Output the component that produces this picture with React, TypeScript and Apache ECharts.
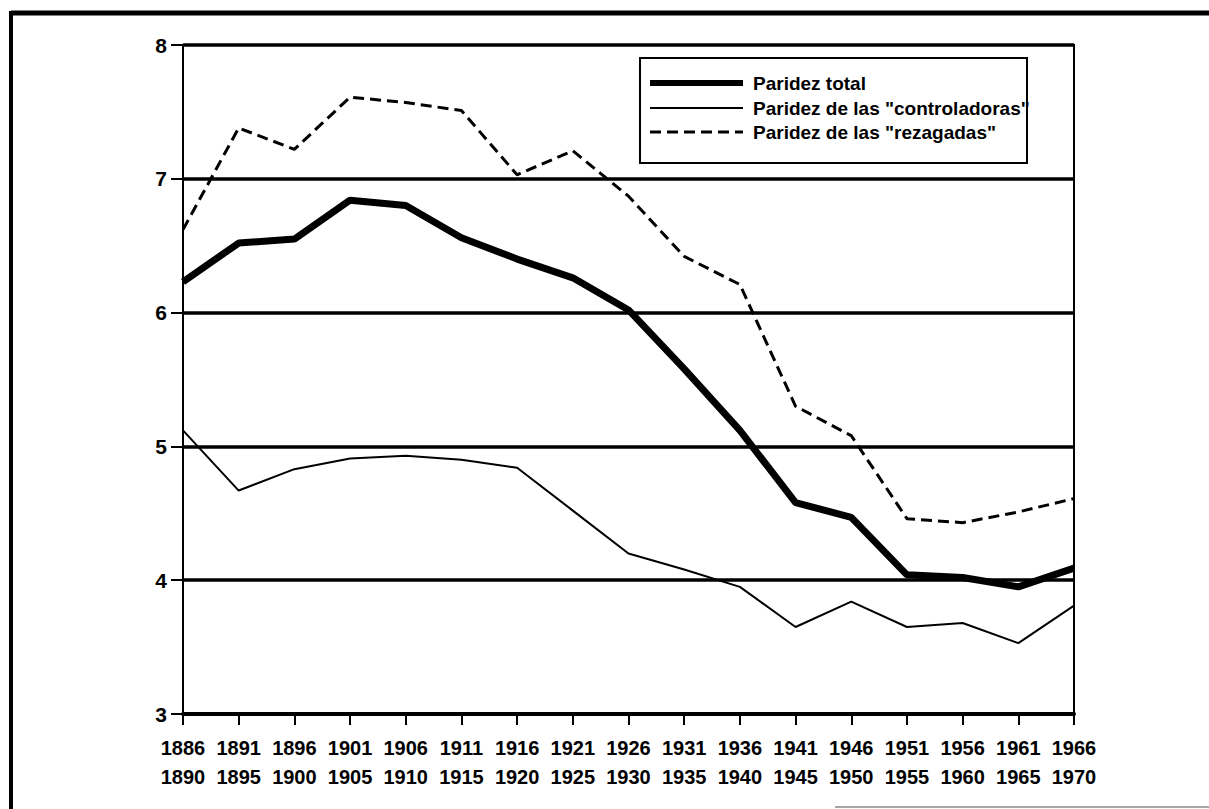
import React, { useEffect, useRef } from "react";
import * as echarts from "echarts";

const periodStart = ["1886", "1891", "1896", "1901", "1906", "1911", "1916", "1921", "1926", "1931", "1936", "1941", "1946", "1951", "1956", "1961", "1966"];
const periodEnd = ["1890", "1895", "1900", "1905", "1910", "1915", "1920", "1925", "1930", "1935", "1940", "1945", "1950", "1955", "1960", "1965", "1970"];

const seriesNames = ["Paridez total", 'Paridez de las "controladoras"', 'Paridez de las "rezagadas"'];

const total = [6.23, 6.52, 6.55, 6.84, 6.8, 6.56, 6.4, 6.26, 6.02, 5.58, 5.12, 4.58, 4.47, 4.04, 4.02, 3.95, 4.09];
const controladoras = [5.12, 4.67, 4.83, 4.91, 4.93, 4.9, 4.84, 4.52, 4.2, 4.08, 3.95, 3.65, 3.84, 3.65, 3.68, 3.53, 3.81];
const rezagadas = [6.62, 7.38, 7.22, 7.61, 7.57, 7.51, 7.03, 7.21, 6.87, 6.42, 6.21, 5.3, 5.08, 4.46, 4.43, 4.51, 4.61];

const yMin = 3;
const yMax = 8;
const yStep = 1;

const FONT = "Liberation Sans";

const lineStyles = [
  { color: "#000", width: 7 },
  { color: "#000", width: 2 },
  { color: "#000", width: 3, type: [11, 6] as number[] },
];

export default function App() {
  const ref = useRef<HTMLDivElement>(null);
  useEffect(() => {
    document.body.style.margin = "0";
    if (!ref.current) return;
    const chart = echarts.init(ref.current, undefined, { renderer: "svg" });
    const categories = periodStart.map((s, i) => `${s}\n${periodEnd[i]}`);
    const legendRowsY = [83, 108, 132];
    const legendGraphics: any[] = [];
    seriesNames.forEach((name, i) => {
      const ls = lineStyles[i];
      legendGraphics.push({
        type: "line",
        shape: { x1: 650, y1: legendRowsY[i], x2: 743, y2: legendRowsY[i] },
        style: {
          stroke: "#000",
          lineWidth: i === 0 ? 6 : ls.width,
          lineDash: (ls as any).type ? (ls as any).type : null,
        },
        z: 20,
      });
      legendGraphics.push({
        type: "text",
        x: 753,
        y: legendRowsY[i],
        style: {
          text: name,
          fontFamily: FONT,
          fontSize: 19,
          fontWeight: "bold",
          fill: "#000",
          verticalAlign: "middle",
          align: "left",
        },
        z: 20,
      });
    });
    chart.setOption({
      animation: false,
      backgroundColor: "#ffffff",
      grid: {
        left: 183,
        top: 45,
        width: 891,
        height: 669,
        show: true,
        borderColor: "#000",
        borderWidth: 2,
        backgroundColor: "transparent",
      },
      xAxis: {
        type: "category",
        data: categories,
        boundaryGap: false,
        axisLine: { show: true, lineStyle: { color: "#000", width: 4 } },
        axisTick: { show: true, alignWithLabel: true, length: 11, lineStyle: { color: "#000", width: 2 } },
        axisLabel: {
          interval: 0,
          margin: 19,
          fontFamily: FONT,
          fontSize: 20,
          fontWeight: "bold",
          color: "#000",
          lineHeight: 29,
        },
        splitLine: { show: false },
      },
      yAxis: {
        type: "value",
        min: yMin,
        max: yMax,
        interval: yStep,
        axisLine: { show: true, lineStyle: { color: "#000", width: 2 } },
        axisTick: { show: true, length: 12, lineStyle: { color: "#000", width: 2 } },
        axisLabel: {
          margin: 16,
          fontFamily: FONT,
          fontSize: 21,
          fontWeight: "bold",
          color: "#000",
        },
        splitLine: { show: true, lineStyle: { color: "#000", width: 3.5 } },
      },
      series: [
        {
          name: seriesNames[0],
          type: "line",
          data: total,
          symbol: "none",
          lineStyle: lineStyles[0],
          z: 5,
        },
        {
          name: seriesNames[1],
          type: "line",
          data: controladoras,
          symbol: "none",
          lineStyle: lineStyles[1],
          z: 4,
        },
        {
          name: seriesNames[2],
          type: "line",
          data: rezagadas,
          symbol: "none",
          lineStyle: lineStyles[2],
          z: 4,
        },
      ],
      graphic: [
        {
          type: "rect",
          shape: { x: 640, y: 58, width: 387, height: 105 },
          style: { fill: "#fff", stroke: "#000", lineWidth: 2 },
          z: 10,
        },
        ...legendGraphics,
        {
          type: "line",
          shape: { x1: 11, y1: 13, x2: 1209, y2: 13 },
          style: { stroke: "#000", lineWidth: 5 },
        },
        {
          type: "line",
          shape: { x1: 11, y1: 11, x2: 11, y2: 809 },
          style: { stroke: "#000", lineWidth: 4 },
        },
        {
          type: "line",
          shape: { x1: 835, y1: 807, x2: 1209, y2: 807 },
          style: { stroke: "#888", lineWidth: 1.5 },
        },
      ],
    });
    return () => chart.dispose();
  }, []);
  return <div ref={ref} style={{ width: 1209, height: 809 }} />;
}
